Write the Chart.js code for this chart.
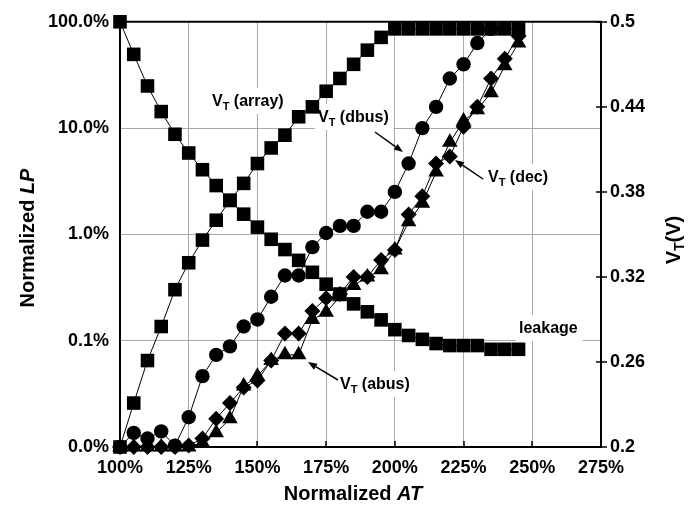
<!DOCTYPE html>
<html>
<head>
<meta charset="utf-8">
<title>Normalized LP and VT vs Normalized AT</title>
<script src="https://cdn.jsdelivr.net/npm/chart.js@4.4.1/dist/chart.umd.min.js"></script>
<style>
  html, body { margin: 0; padding: 0; background: #fff; }
  #wrap { width: 697px; height: 508px; position: relative; }
</style>
</head>
<body>
<div id="wrap"><canvas id="c" width="697" height="508"></canvas></div>
<script>
// Normalized access time (x), percent
const atPct = [100,105,110,115,120,125,130,135,140,145,150,155,160,165,170,175,180,185,190,195,200,205,210,215,220,225,230,235,240,245];

// Normalized leakage power, percent (log axis)
const leakage = [100,49.4,24.9,14.3,8.75,5.83,4.06,2.88,2.09,1.55,1.17,0.90,0.72,0.57,0.44,0.34,0.275,0.222,0.187,0.157,0.127,0.112,0.103,0.094,0.090,0.090,0.090,0.083,0.083,0.083];

// Threshold voltages, V (right axis)
const vtArray = [0.200,0.231,0.261,0.285,0.311,0.330,0.346,0.360,0.374,0.386,0.400,0.411,0.420,0.433,0.440,0.451,0.460,0.470,0.480,0.489,0.495,0.495,0.495,0.495,0.495,0.495,0.495,0.495,0.495,0.495];
const vtDbus  = [0.200,0.210,0.206,0.211,0.201,0.221,0.250,0.265,0.271,0.285,0.290,0.306,0.321,0.321,0.341,0.351,0.356,0.356,0.366,0.366,0.380,0.400,0.425,0.440,0.460,0.470,0.485,0.495];
const vtDec   = [0.200,0.200,0.200,0.200,0.200,0.201,0.206,0.220,0.231,0.242,0.247,0.261,0.280,0.280,0.296,0.305,0.308,0.320,0.320,0.332,0.339,0.364,0.377,0.400,0.405,0.426,0.440,0.460,0.474,0.490];
const vtAbus  = [0.200,0.200,0.200,0.200,0.200,0.200,0.203,0.210,0.220,0.243,0.250,0.261,0.265,0.265,0.290,0.295,0.306,0.314,0.320,0.325,0.339,0.359,0.372,0.394,0.415,0.430,0.438,0.450,0.469,0.485];

// Axis ticks
const xTicks  = [100,125,150,175,200,225,250,275];
const lpTicks = [0.01,0.1,1,10,100];
const vtTicks = [0.2,0.26,0.32,0.38,0.44,0.5];

const FONT = '"Liberation Sans", Arial, Helvetica, sans-serif';

function pts(arr) { return arr.map((y, i) => ({ x: atPct[i], y: y })); }

function series(label, arr, axis, style, radius) {
  return {
    label: label,
    data: pts(arr),
    yAxisID: axis,
    borderColor: '#000',
    borderWidth: 1,
    backgroundColor: '#000',
    pointStyle: style,
    pointRadius: radius,
    pointBackgroundColor: '#000',
    pointBorderColor: '#000',
    pointBorderWidth: 0,
    tension: 0,
    fill: false,
    clip: false
  };
}

// Text callouts with a white backing box
const notes = [
  { main: 'V', sub: 'T', rest: ' (array)', x: 212, y: 100 },
  { main: 'V', sub: 'T', rest: ' (dbus)',  x: 318, y: 116 },
  { main: 'V', sub: 'T', rest: ' (dec)',   x: 488, y: 176 },
  { main: 'V', sub: 'T', rest: ' (abus)',  x: 340, y: 383 },
  { main: 'leakage', sub: '', rest: '',    x: 519, y: 327 }
];
const arrows = [
  { x1: 375, y1: 132, x2: 403, y2: 152 },
  { x1: 483, y1: 179, x2: 455, y2: 160 },
  { x1: 338, y1: 380, x2: 308, y2: 362 }
];

function noteWidth(ctx, n) {
  ctx.font = 'bold 16px ' + FONT;
  let w = ctx.measureText(n.main).width;
  if (n.sub) { ctx.font = 'bold 11px ' + FONT; w += ctx.measureText(n.sub).width; }
  ctx.font = 'bold 16px ' + FONT;
  w += ctx.measureText(n.rest).width;
  return w;
}

function drawNote(ctx, n) {
  const w = noteWidth(ctx, n);
  ctx.save();
  ctx.fillStyle = '#fff';
  ctx.fillRect(n.x - 3, n.y - 12, w + 8, 26);
  ctx.fillStyle = '#000';
  ctx.textBaseline = 'alphabetic';
  ctx.textAlign = 'left';
  const base = n.y + 6;
  let x = n.x;
  ctx.font = 'bold 16px ' + FONT;
  ctx.fillText(n.main, x, base);
  x += ctx.measureText(n.main).width;
  if (n.sub) {
    ctx.font = 'bold 11px ' + FONT;
    ctx.fillText(n.sub, x, base + 4);
    x += ctx.measureText(n.sub).width;
  }
  ctx.font = 'bold 16px ' + FONT;
  ctx.fillText(n.rest, x, base);
  ctx.restore();
}

function drawArrow(ctx, a) {
  const ang = Math.atan2(a.y2 - a.y1, a.x2 - a.x1);
  const len = 9, half = 3.5;
  const bx = a.x2 - Math.cos(ang) * len, by = a.y2 - Math.sin(ang) * len;
  ctx.save();
  ctx.strokeStyle = '#000';
  ctx.fillStyle = '#000';
  ctx.lineWidth = 1.5;
  ctx.beginPath();
  ctx.moveTo(a.x1, a.y1);
  ctx.lineTo(bx, by);
  ctx.stroke();
  ctx.beginPath();
  ctx.moveTo(a.x2, a.y2);
  ctx.lineTo(bx - Math.sin(ang) * half, by + Math.cos(ang) * half);
  ctx.lineTo(bx + Math.sin(ang) * half, by - Math.cos(ang) * half);
  ctx.closePath();
  ctx.fill();
  ctx.restore();
}

// Draws "Normalized <italic>" centred on (cx, cy), optionally rotated
function drawTitle(ctx, plain, italic, cx, cy, rot) {
  ctx.save();
  ctx.translate(cx, cy);
  ctx.rotate(rot);
  ctx.fillStyle = '#000';
  ctx.textBaseline = 'middle';
  ctx.textAlign = 'left';
  ctx.font = 'bold 20px ' + FONT;
  const w1 = ctx.measureText(plain).width;
  ctx.font = 'italic bold 20px ' + FONT;
  const w2 = ctx.measureText(italic).width;
  let x = -(w1 + w2) / 2;
  ctx.font = 'bold 20px ' + FONT;
  ctx.fillText(plain, x, 0);
  ctx.font = 'italic bold 20px ' + FONT;
  ctx.fillText(italic, x + w1, 0);
  ctx.restore();
}

const decor = {
  id: 'decor',
  beforeDatasetsDraw(chart) {
    const ctx = chart.ctx;
    notes.forEach(n => drawNote(ctx, n));
  },
  afterDatasetsDraw(chart) {
    const ctx = chart.ctx;
    arrows.forEach(a => drawArrow(ctx, a));
  },
  afterDraw(chart) {
    const ctx = chart.ctx;
    const a = chart.chartArea;
    const xs = chart.scales.x, yr = chart.scales.y2;
    ctx.save();
    ctx.strokeStyle = '#000';
    ctx.lineWidth = 2;
    // top frame line
    ctx.beginPath();
    ctx.moveTo(a.left - 1, a.top);
    ctx.lineTo(a.right + 1, a.top);
    ctx.stroke();
    // x-axis tick marks (inward)
    ctx.lineWidth = 1.5;
    xTicks.forEach(v => {
      const px = Math.round(xs.getPixelForValue(v));
      ctx.beginPath();
      ctx.moveTo(px, a.bottom);
      ctx.lineTo(px, a.bottom - 6);
      ctx.stroke();
    });
    // right-axis tick marks (crossing)
    vtTicks.forEach(v => {
      const py = Math.round(yr.getPixelForValue(v));
      ctx.beginPath();
      ctx.moveTo(a.right - 5, py);
      ctx.lineTo(a.right + 6, py);
      ctx.stroke();
    });
    ctx.restore();

    // axis titles
    drawTitle(ctx, 'Normalized ', 'AT', 353, 494, 0);
    drawTitle(ctx, 'Normalized ', 'LP', 28, 238, -Math.PI / 2);

    // right title V_T(V)
    ctx.save();
    ctx.translate(673, 240);
    ctx.rotate(-Math.PI / 2);
    ctx.fillStyle = '#000';
    ctx.textBaseline = 'alphabetic';
    ctx.textAlign = 'left';
    ctx.font = 'bold 20px ' + FONT;
    const wV = ctx.measureText('V').width;
    const wP = ctx.measureText('(V)').width;
    ctx.font = 'bold 14px ' + FONT;
    const wT = ctx.measureText('T').width;
    let x = -(wV + wT + wP) / 2;
    ctx.font = 'bold 20px ' + FONT;
    ctx.fillText('V', x, 7);
    ctx.font = 'bold 14px ' + FONT;
    ctx.fillText('T', x + wV, 11);
    ctx.font = 'bold 20px ' + FONT;
    ctx.fillText('(V)', x + wV + wT, 7);
    ctx.restore();
  }
};

const gridColor = '#a9a9a9';
const tickFont = { family: FONT, size: 18, weight: 'bold' };

new Chart(document.getElementById('c'), {
  type: 'line',
  data: {
    datasets: [
      series('V_T (array)', vtArray, 'y2', 'rect', 9.6),
      series('leakage', leakage, 'y', 'rect', 9.6),
      series('V_T (dbus)', vtDbus, 'y2', 'circle', 7.2),
      series('V_T (dec)', vtDec, 'y2', 'rectRot', 8),
      series('V_T (abus)', vtAbus, 'y2', 'triangle', 9)
    ]
  },
  options: {
    responsive: false,
    animation: false,
    layout: { padding: { top: 16, left: 0, right: 0, bottom: 0 } },
    plugins: { legend: { display: false }, tooltip: { enabled: false } },
    scales: {
      x: {
        type: 'linear',
        min: 100, max: 275,
        afterBuildTicks: s => { s.ticks = xTicks.map(v => ({ value: v })); },
        afterFit: s => { s.height = 61; },
        ticks: { callback: v => v + '%', font: tickFont, color: '#000', padding: 10, maxRotation: 0, autoSkip: false },
        grid: {
          drawTicks: false,
          lineWidth: 1,
          color: c => (c.tick && (c.tick.value === 100 || c.tick.value === 275)) ? 'rgba(0,0,0,0)' : gridColor
        },
        border: { color: '#000', width: 2 }
      },
      y: {
        type: 'logarithmic',
        position: 'left',
        min: 0.01, max: 100,
        afterBuildTicks: s => { s.ticks = lpTicks.map(v => ({ value: v })); },
        afterFit: s => { s.width = 120; },
        ticks: { callback: v => Number(v).toFixed(1) + '%', font: tickFont, color: '#000', padding: 11, autoSkip: false },
        grid: {
          drawTicks: false,
          lineWidth: 1,
          color: c => (c.tick && (c.tick.value === 0.01 || c.tick.value === 100)) ? 'rgba(0,0,0,0)' : gridColor
        },
        border: { color: '#000', width: 2 }
      },
      y2: {
        type: 'linear',
        position: 'right',
        min: 0.2, max: 0.5,
        afterBuildTicks: s => { s.ticks = vtTicks.map(v => ({ value: v })); },
        afterFit: s => { s.width = 96; },
        ticks: { callback: v => String(v), font: tickFont, color: '#000', padding: 9, autoSkip: false },
        grid: { display: false, drawTicks: false },
        border: { color: '#000', width: 2 }
      }
    }
  },
  plugins: [decor]
});
</script>
</body>
</html>
